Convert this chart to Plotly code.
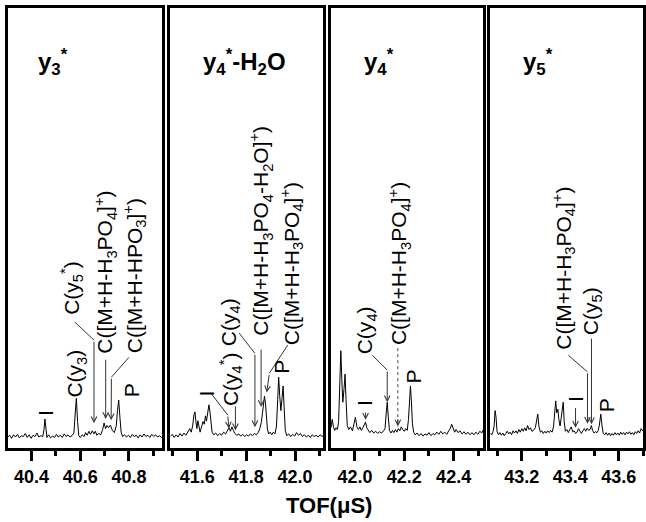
import plotly.graph_objects as go

# ---------------- data ----------------
tof_y3 = [40.300, 40.310, 40.318, 40.326, 40.334, 40.342, 40.350, 40.358, 40.366, 40.374,
          40.382, 40.390, 40.398, 40.406, 40.414, 40.422, 40.430, 40.438, 40.446, 40.451,
          40.455, 40.459, 40.463, 40.470, 40.478, 40.486, 40.494, 40.502, 40.510, 40.518,
          40.526, 40.534, 40.542, 40.550, 40.558, 40.566, 40.574, 40.579, 40.584, 40.589,
          40.594, 40.600, 40.608, 40.616, 40.622, 40.628, 40.636, 40.642, 40.650, 40.656,
          40.662, 40.668, 40.676, 40.684, 40.692, 40.698, 40.704, 40.710, 40.716, 40.724,
          40.732, 40.740, 40.748, 40.753, 40.758, 40.763, 40.768, 40.774, 40.782, 40.790,
          40.798, 40.806, 40.814, 40.822, 40.830, 40.838, 40.846, 40.854, 40.862, 40.870,
          40.878, 40.886, 40.894, 40.902, 40.910, 40.918, 40.926, 40.934, 40.940]
int_y3 = [2.4, 2.9, 2.2, 3.0, 2.5, 3.1, 2.3, 2.8, 2.6, 3.3,
          2.4, 3.0, 2.2, 2.9, 2.6, 3.4, 2.5, 2.8, 2.6, 4.2,
          6.6, 4.0, 2.4, 3.0, 2.3, 2.7, 2.4, 3.1, 2.5, 2.9,
          2.4, 3.2, 2.6, 3.0, 2.5, 2.8, 3.4, 7.5, 11.3, 6.0,
          2.8, 2.4, 3.0, 2.6, 3.5, 2.9, 3.8, 3.1, 3.9, 3.2,
          3.8, 2.9, 3.3, 3.0, 4.2, 5.7, 4.4, 5.1, 4.6, 5.2,
          4.0, 3.5, 5.0, 8.5, 10.9, 7.0, 3.6, 2.6, 3.0, 2.5,
          2.9, 2.4, 3.1, 2.6, 2.9, 2.3, 3.0, 2.5, 3.2, 2.6,
          2.9, 2.4, 3.1, 2.6, 3.0, 2.5, 2.8, 2.4, 2.7]

tof_y4w = [41.490, 41.498, 41.506, 41.514, 41.522, 41.530, 41.538, 41.546, 41.554, 41.562,
           41.570, 41.576, 41.582, 41.587, 41.591, 41.595, 41.599, 41.603, 41.607, 41.612,
           41.618, 41.624, 41.629, 41.634, 41.638, 41.643, 41.648, 41.652, 41.656, 41.661,
           41.668, 41.676, 41.684, 41.692, 41.700, 41.708, 41.716, 41.724, 41.730, 41.736,
           41.742, 41.748, 41.754, 41.762, 41.770, 41.778, 41.786, 41.794, 41.802, 41.810,
           41.818, 41.826, 41.834, 41.842, 41.850, 41.856, 41.862, 41.867, 41.871, 41.875,
           41.879, 41.883, 41.887, 41.892, 41.898, 41.905, 41.911, 41.918, 41.924, 41.929,
           41.933, 41.937, 41.942, 41.947, 41.951, 41.955, 41.960, 41.966, 41.974, 41.982,
           41.990, 41.998, 42.006, 42.014, 42.022, 42.030, 42.038, 42.046, 42.054, 42.062,
           42.070, 42.078, 42.086, 42.094, 42.102, 42.110, 42.114]
int_y4w = [2.6, 3.1, 2.4, 3.0, 2.5, 3.3, 2.7, 3.4, 2.9, 3.8,
           4.4, 3.6, 5.2, 7.6, 8.2, 6.0, 4.4, 6.2, 4.5, 3.6,
           4.8, 6.0, 5.4, 7.3, 6.1, 8.0, 9.8, 8.4, 5.5, 3.6,
           3.0, 3.4, 2.8, 3.3, 2.9, 3.6, 3.2, 4.0, 4.6, 3.8,
           4.8, 4.0, 3.3, 2.9, 3.2, 2.7, 3.1, 2.6, 3.0, 2.7,
           3.2, 2.8, 3.3, 3.0, 3.6, 4.4, 5.8, 8.0, 10.4, 11.8,
           10.2, 7.0, 4.3, 3.2, 3.6, 3.0, 3.6, 3.2, 5.0, 11.0,
           16.1, 12.0, 8.5, 11.5, 14.1, 9.5, 4.0, 2.8, 3.2, 2.6,
           3.1, 2.7, 3.5, 2.9, 3.3, 2.6, 3.0, 2.5, 2.9, 2.4,
           3.0, 2.6, 2.9, 2.5, 3.0, 2.6, 2.8]

tof_y4 = [41.903, 41.908, 41.913, 41.918, 41.924, 41.929, 41.934, 41.938, 41.943, 41.947,
          41.951, 41.956, 41.960, 41.964, 41.969, 41.975, 41.982, 41.990, 41.996, 42.002,
          42.008, 42.014, 42.020, 42.026, 42.032, 42.038, 42.043, 42.048, 42.054, 42.060,
          42.068, 42.076, 42.084, 42.092, 42.100, 42.108, 42.116, 42.122, 42.127, 42.131,
          42.135, 42.140, 42.146, 42.152, 42.158, 42.164, 42.170, 42.176, 42.182, 42.188,
          42.194, 42.200, 42.206, 42.212, 42.217, 42.221, 42.225, 42.229, 42.233, 42.238,
          42.244, 42.252, 42.260, 42.268, 42.276, 42.284, 42.292, 42.300, 42.308, 42.316,
          42.324, 42.332, 42.340, 42.348, 42.356, 42.364, 42.372, 42.380, 42.386, 42.392,
          42.398, 42.404, 42.410, 42.418, 42.426, 42.434, 42.442, 42.450, 42.458, 42.466,
          42.474, 42.482, 42.490, 42.498, 42.506, 42.514, 42.520]
int_y4 = [4.6, 6.5, 4.8, 4.0, 4.6, 4.2, 6.0, 13.0, 22.1, 15.5,
          10.4, 13.5, 16.8, 11.0, 5.1, 4.2, 4.8, 3.9, 5.2, 7.0,
          4.8, 4.2, 4.8, 4.0, 4.6, 5.2, 5.9, 4.6, 3.9, 3.5,
          4.0, 3.4, 3.8, 3.3, 3.7, 3.4, 3.9, 4.4, 8.0, 10.4,
          7.2, 4.0, 3.4, 4.0, 3.5, 4.2, 3.6, 4.4, 3.9, 4.8,
          4.2, 3.8, 4.4, 4.0, 6.5, 11.5, 14.1, 10.5, 5.5, 3.6,
          3.0, 3.4, 2.8, 3.3, 2.7, 3.2, 2.9, 3.5, 2.8, 3.3,
          3.0, 3.6, 3.1, 3.8, 3.2, 3.6, 3.1, 3.9, 4.4, 5.4,
          4.2, 3.6, 4.2, 3.5, 3.9, 3.2, 3.7, 3.1, 3.6, 3.0,
          3.5, 3.0, 3.6, 3.1, 3.8, 3.4, 4.2]

tof_y5 = [43.071, 43.076, 43.081, 43.086, 43.090, 43.094, 43.098, 43.104, 43.110, 43.116,
          43.122, 43.128, 43.134, 43.140, 43.146, 43.152, 43.158, 43.164, 43.170, 43.176,
          43.182, 43.188, 43.194, 43.200, 43.206, 43.212, 43.218, 43.224, 43.230, 43.236,
          43.242, 43.248, 43.256, 43.261, 43.266, 43.271, 43.277, 43.283, 43.289, 43.295,
          43.301, 43.307, 43.313, 43.319, 43.325, 43.331, 43.336, 43.340, 43.344, 43.349,
          43.353, 43.358, 43.363, 43.367, 43.371, 43.375, 43.380, 43.386, 43.392, 43.398,
          43.404, 43.410, 43.416, 43.422, 43.428, 43.434, 43.440, 43.446, 43.452, 43.458,
          43.464, 43.470, 43.476, 43.482, 43.487, 43.492, 43.498, 43.504, 43.510, 43.515,
          43.520, 43.526, 43.531, 43.536, 43.542, 43.548, 43.554, 43.560, 43.566, 43.572,
          43.578, 43.584, 43.590, 43.596, 43.602, 43.608, 43.614, 43.620, 43.626, 43.632,
          43.638, 43.644, 43.650, 43.656, 43.662, 43.668, 43.674, 43.680, 43.686, 43.692,
          43.700]
int_y5 = [3.4, 3.0, 3.6, 5.0, 8.5, 7.0, 3.8, 3.0, 3.5, 2.9,
          3.4, 2.8, 3.3, 3.8, 3.2, 3.6, 3.0, 3.9, 3.4, 3.9,
          3.3, 4.2, 3.6, 4.4, 3.8, 4.6, 3.9, 5.1, 4.2, 4.6,
          3.8, 4.0, 4.6, 6.0, 7.7, 4.8, 3.6, 3.9, 3.3, 3.8,
          3.4, 3.9, 3.5, 4.0, 3.6, 4.8, 8.0, 10.7, 8.0, 8.8,
          6.5, 5.0, 7.0, 9.5, 10.4, 6.0, 3.8, 4.2, 3.5, 4.2,
          4.8, 3.7, 3.9, 3.3, 3.6, 4.4, 3.8, 3.3, 3.9, 4.4,
          3.8, 4.5, 4.0, 4.2, 5.1, 4.0, 3.4, 3.7, 3.5, 3.9,
          5.2, 7.7, 5.0, 3.3, 3.0, 3.5, 2.9, 3.4, 2.8, 3.3,
          2.9, 3.5, 3.0, 3.4, 2.9, 3.6, 3.1, 3.5, 3.0, 3.6,
          3.2, 3.7, 3.1, 3.5, 3.0, 3.7, 3.3, 3.9, 3.4, 4.4,
          3.8]

panel_titles = ["y<sub>3</sub><sup>*</sup>", "y<sub>4</sub><sup>*</sup>-H<sub>2</sub>O",
                "y<sub>4</sub><sup>*</sup>", "y<sub>5</sub><sup>*</sup>"]
x_ranges = [[40.303, 40.938], [41.491, 42.114], [41.903, 42.521], [43.071, 43.700]]
x_title = "TOF(\u03bcS)"

# peak labels: text, label x, label y, leader line (x0,y0,x1,y1) or None, arrow (tail x, tail y, tip x, tip y) or None, dotted
labels = [
    [  # panel 1
        ("I", 40.4545, 7.9, None, None, False),
        ("C(y<sub>3</sub>)", 40.584, 17.0, None, None, False),
        ("C(y<sub>5</sub><sup>*</sup>)", 40.566, 36.4, (40.578, 28.6, 40.6566, 24.5), (40.6566, 24.5, 40.6566, 5.6), False),
        ("C([M+H-H<sub>3</sub>PO<sub>4</sub>]<sup>+</sup>)", 40.7004, 40.0, None, (40.7045, 20.4, 40.7045, 6.6), False),
        ("C([M+H-HPO<sub>3</sub>]<sup>+</sup>)", 40.8234, 39.2, (40.800, 20.6, 40.728, 16.1), (40.728, 16.1, 40.727, 6.3), False),
        ("P", 40.814, 13.2, None, None, False),
    ],
    [  # panel 2
        ("I", 41.6367, 12.4, (41.657, 12.4, 41.7249, 7.5), (41.7249, 7.5, 41.7300, 4.4), False),
        ("C(y<sub>4</sub><sup>*</sup>)", 41.7388, 15.7, None, (41.7563, 9.8, 41.7563, 4.0), False),
        ("C(y<sub>4</sub>)", 41.7318, 28.7, (41.7718, 26.1, 41.836, 21.5), (41.836, 21.5, 41.836, 4.7), False),
        ("C([M+H-H<sub>3</sub>PO<sub>4</sub>-H<sub>2</sub>O]<sup>+</sup>)", 41.8612, 49.4, None, (41.8612, 22.7, 41.8612, 9.3), False),
        ("C([M+H-H<sub>3</sub>PO<sub>4</sub>]<sup>+</sup>)", 41.9837, 41.8, (41.970, 23.4, 41.895, 17.0), (41.895, 17.0, 41.884, 12.6), False),
        ("P", 41.9429, 18.5, None, None, False),
    ],
    [  # panel 3
        ("I", 42.0364, 10.2, None, (42.0433, 8.4, 42.0433, 6.4), False),
        ("C(y<sub>4</sub>)", 42.0458, 26.8, (42.070, 21.1, 42.131, 17.7), (42.131, 17.7, 42.131, 10.4), False),
        ("C([M+H-H<sub>3</sub>PO<sub>4</sub>]<sup>+</sup>)", 42.178, 42.0, None, (42.174, 22.7, 42.174, 4.9), True),
        ("P", 42.2389, 16.2, None, None, False),
    ],
    [  # panel 4
        ("C([M+H-H<sub>3</sub>PO<sub>4</sub>]<sup>+</sup>)", 43.3713, 40.8, (43.3918, 21.1, 43.471, 17.3), (43.471, 17.3, 43.471, 5.5), False),
        ("C(y<sub>5</sub>)", 43.4875, 31.2, None, (43.4875, 25.2, 43.4875, 5.4), False),
        ("I", 43.4193, 11.1, None, (43.4218, 9.4, 43.4218, 4.6), False),
        ("P", 43.549, 9.8, None, None, False),
    ],
]

series = [(tof_y3, int_y3), (tof_y4w, int_y4w), (tof_y4, int_y4), (tof_y5, int_y5)]

# ---------------- layout geometry ----------------
W, H = 646, 522
TOP, BOTTOM = 8, 448
panel_px = [(8, 163), (171, 324), (332, 485), (492, 645)]
title_left_px = [36, 202, 363, 523]
FONT = "Liberation Sans, Arial, sans-serif"

fig = go.Figure()
layout = dict(
    width=W, height=H,
    margin=dict(l=0, r=0, t=TOP, b=H - BOTTOM),
    paper_bgcolor="white", plot_bgcolor="white",
    showlegend=False,
    font=dict(family=FONT, color="black"),
)

annotations = []
shapes = []

for i, ((xs, ys), (p0, p1)) in enumerate(zip(series, panel_px)):
    n = i + 1
    xa = "x" if n == 1 else f"x{n}"
    ya = "y" if n == 1 else f"y{n}"
    fig.add_trace(go.Scatter(x=xs, y=ys, mode="lines", xaxis=xa, yaxis=ya,
                             line=dict(color="black", width=1), hoverinfo="skip"))
    xkey = "xaxis" if n == 1 else f"xaxis{n}"
    ykey = "yaxis" if n == 1 else f"yaxis{n}"
    layout[xkey] = dict(
        domain=[p0 / W, p1 / W], range=x_ranges[i], anchor=ya,
        showline=True, mirror=True, linewidth=3, linecolor="black",
        showgrid=False, zeroline=False,
        ticks="outside", ticklen=10, tickwidth=2.5, tickcolor="black",
        tick0=40.0, dtick=0.2, tickformat=".1f",
        tickfont=dict(family=FONT, size=18, color="black", weight="bold"),
        minor=dict(ticks="outside", ticklen=5, tickwidth=2.5, tickcolor="black", tick0=40.0, dtick=0.1, showgrid=False),
    )
    layout[ykey] = dict(
        domain=[0, 1], range=[0, 100], anchor=xa,
        showline=True, mirror=True, linewidth=3, linecolor="black",
        showgrid=False, zeroline=False, ticks="", showticklabels=False,
    )
    # panel title
    annotations.append(dict(
        text="<b>" + panel_titles[i] + "</b>", xref="paper", yref="paper",
        x=title_left_px[i] / W, y=(BOTTOM - 62) / (BOTTOM - TOP),
        xanchor="left", yanchor="middle", showarrow=False,
        font=dict(family=FONT, size=24, color="black"),
    ))
    for (txt, lx, ly, leader, arrow, dotted) in labels[i]:
        annotations.append(dict(
            text=txt, x=lx, y=ly, xref=xa, yref=ya, showarrow=False,
            textangle=-90, xanchor="center", yanchor="middle",
            font=dict(family=FONT, size=21, color="black"),
        ))
        if leader is not None:
            shapes.append(dict(type="line", xref=xa, yref=ya,
                               x0=leader[0], y0=leader[1], x1=leader[2], y1=leader[3],
                               line=dict(color="#333333", width=1)))
        if arrow is not None:
            if dotted:
                shapes.append(dict(type="line", xref=xa, yref=ya,
                                   x0=arrow[0], y0=arrow[1], x1=arrow[2], y1=arrow[3],
                                   line=dict(color="#444444", width=1, dash="dot")))
                annotations.append(dict(
                    text="", x=arrow[2], y=arrow[3], ax=arrow[2], ay=arrow[3] + 2.0,
                    xref=xa, yref=ya, axref=xa, ayref=ya, showarrow=True,
                    arrowhead=5, arrowsize=1.1, arrowwidth=1, arrowcolor="#333333"))
            else:
                annotations.append(dict(
                    text="", x=arrow[2], y=arrow[3], ax=arrow[0], ay=arrow[1],
                    xref=xa, yref=ya, axref=xa, ayref=ya, showarrow=True,
                    arrowhead=5, arrowsize=1.1, arrowwidth=1, arrowcolor="#333333"))

# shared x-axis title
annotations.append(dict(
    text="<b>" + x_title + "</b>", xref="paper", yref="paper",
    x=330 / W, y=-(505 - BOTTOM) / (BOTTOM - TOP), xanchor="center", yanchor="middle",
    showarrow=False, font=dict(family=FONT, size=22, color="black"),
))

layout["annotations"] = annotations
layout["shapes"] = shapes
fig.update_layout(**layout)
fig.write_html("out.html")
